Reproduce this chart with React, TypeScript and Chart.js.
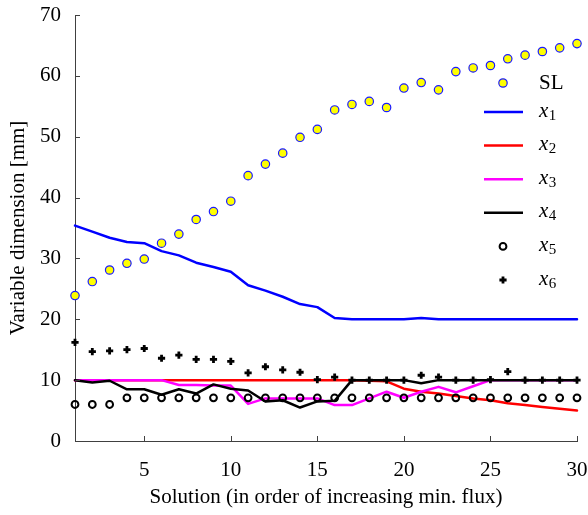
import React, { useEffect, useRef } from "react";
import { Chart, registerables } from "chart.js";

Chart.register(...registerables);

// ---------- data ----------
const solutions = [1, 2, 3, 4, 5, 6, 7, 8, 9, 10, 11, 12, 13, 14, 15, 16, 17, 18, 19, 20, 21, 22, 23, 24, 25, 26, 27, 28, 29, 30];

const slValues = [23.9, 26.2, 28.1, 29.2, 29.9, 32.5, 34.0, 36.4, 37.7, 39.4, 43.6, 45.5, 47.3, 49.9, 51.2, 54.4, 55.3, 55.8, 54.8, 58.0, 58.9, 57.7, 60.7, 61.3, 61.7, 62.8, 63.4, 64.0, 64.6, 65.3];
const x1Values = [35.4, 34.4, 33.4, 32.7, 32.5, 31.2, 30.5, 29.3, 28.6, 27.8, 25.6, 24.7, 23.7, 22.5, 22.0, 20.2, 20.0, 20.0, 20.0, 20.0, 20.2, 20.0, 20.0, 20.0, 20.0, 20.0, 20.0, 20.0, 20.0, 20.0];
const x2Values = [10, 10, 10, 10, 10, 10, 10, 10, 10, 10, 10, 10, 10, 10, 10, 10, 10, 9.9, 9.8, 8.6, 8.1, 7.8, 7.4, 7.0, 6.7, 6.2, 5.9, 5.6, 5.3, 5.0];
const x3Values = [10, 10, 10, 10, 10, 10, 9.2, 9.2, 9.1, 9.1, 6.1, 7.0, 7.0, 7.0, 7.0, 5.9, 5.9, 7.0, 8.1, 7.1, 8.1, 8.9, 8.0, 9.0, 10, 10, 10, 10, 10, 10];
const x4Values = [10, 9.6, 9.9, 8.5, 8.5, 7.6, 8.5, 7.8, 9.3, 8.6, 8.3, 6.5, 6.7, 5.5, 6.5, 6.6, 10, 10, 10, 10, 9.5, 10, 10, 10, 10, 10, 10, 10, 10, 10];
const x5Values = [6.0, 6.0, 6.0, 7.1, 7.1, 7.1, 7.1, 7.1, 7.1, 7.1, 7.1, 7.1, 7.1, 7.1, 7.1, 7.1, 7.1, 7.1, 7.1, 7.1, 7.1, 7.1, 7.1, 7.1, 7.1, 7.1, 7.1, 7.1, 7.1, 7.1];
const x6Values = [16.2, 14.7, 14.8, 15.0, 15.2, 13.6, 14.1, 13.4, 13.4, 13.1, 11.2, 12.2, 11.7, 11.3, 10.1, 10.5, 10, 10, 10, 10, 10.8, 10.5, 10, 10, 10.1, 11.4, 10, 10, 10, 10];

const seriesNames = ["SL", "x1", "x2", "x3", "x4", "x5", "x6"];
const xTickValues = [5, 10, 15, 20, 25, 30];
const yTickValues = [0, 10, 20, 30, 40, 50, 60, 70];
const xTitle = "Solution (in order of increasing min. flux)";
const yTitle = "Variable dimension [mm]";

const FONT = "'Liberation Serif', 'Times New Roman', serif";
const AXIS_COLOR = "#404040";

const toPoints = (vals: number[]) => solutions.map((s, i) => ({ x: s, y: vals[i] }));

type Style = { kind: "point" | "line"; color: string; fill?: string; shape?: string };
const styles: Style[] = [
  { kind: "point", color: "#1a1aff", fill: "#ffff00", shape: "circle" },
  { kind: "line", color: "#0000ff" },
  { kind: "line", color: "#ff0000" },
  { kind: "line", color: "#ff00ff" },
  { kind: "line", color: "#000000" },
  { kind: "point", color: "#000000", fill: "rgba(0,0,0,0)", shape: "ring" },
  { kind: "point", color: "#000000", shape: "plus" },
];

function drawMarker(ctx: CanvasRenderingContext2D, st: Style, x: number, y: number) {
  ctx.save();
  if (st.shape === "circle") {
    ctx.beginPath();
    ctx.arc(x, y, 4.2, 0, Math.PI * 2);
    ctx.fillStyle = st.fill!;
    ctx.fill();
    ctx.lineWidth = 1.2;
    ctx.strokeStyle = st.color;
    ctx.stroke();
  } else if (st.shape === "ring") {
    ctx.beginPath();
    ctx.arc(x, y, 3.4, 0, Math.PI * 2);
    ctx.lineWidth = 2;
    ctx.strokeStyle = st.color;
    ctx.stroke();
  } else {
    ctx.beginPath();
    ctx.moveTo(x - 3.6, y);
    ctx.lineTo(x + 3.6, y);
    ctx.moveTo(x, y - 3.6);
    ctx.lineTo(x, y + 3.6);
    ctx.lineWidth = 2.8;
    ctx.strokeStyle = st.color;
    ctx.stroke();
  }
  ctx.restore();
}

const inwardTicks = {
  id: "inwardTicks",
  afterDraw(chart: any) {
    const { ctx, chartArea, scales } = chart;
    ctx.save();
    ctx.strokeStyle = AXIS_COLOR;
    ctx.lineWidth = 1;
    ctx.beginPath();
    xTickValues.forEach((v) => {
      const px = Math.round(scales.x.getPixelForValue(v)) + 0.5;
      ctx.moveTo(px, chartArea.bottom);
      ctx.lineTo(px, chartArea.bottom - 5);
    });
    yTickValues.forEach((v) => {
      const py = Math.round(scales.y.getPixelForValue(v)) + 0.5;
      ctx.moveTo(chartArea.left, py);
      ctx.lineTo(chartArea.left + 5, py);
    });
    ctx.stroke();
    ctx.restore();
  },
};

const customLegend = {
  id: "customLegend",
  afterDraw(chart: any) {
    const { ctx } = chart;
    const rowsY = [83, 112, 145.6, 179.2, 212.8, 246.4, 280];
    const markerX = 503;
    const lineX0 = 484;
    const lineX1 = 523;
    const textX = 539;
    seriesNames.forEach((name, i) => {
      const y = rowsY[i];
      const st = styles[i];
      if (st.kind === "line") {
        ctx.save();
        ctx.beginPath();
        ctx.moveTo(lineX0, y);
        ctx.lineTo(lineX1, y);
        ctx.lineWidth = 2.5;
        ctx.strokeStyle = st.color;
        ctx.stroke();
        ctx.restore();
      } else {
        drawMarker(ctx, st, markerX, y);
      }
      ctx.save();
      ctx.fillStyle = "#000";
      if (name.startsWith("x")) {
        ctx.textBaseline = "alphabetic";
        ctx.textAlign = "left";
        ctx.font = `italic 21px ${FONT}`;
        const base = y + 4.5;
        ctx.fillText("x", textX, base);
        const w = ctx.measureText("x").width;
        ctx.font = `15px ${FONT}`;
        ctx.fillText(name.slice(1), textX + w + 0.5, base + 3);
      } else {
        ctx.textBaseline = "middle";
        ctx.textAlign = "left";
        ctx.font = `21px ${FONT}`;
        ctx.fillText(name, textX, y);
      }
      ctx.restore();
    });
  },
};

const resetPadding = (s: any) => {
  s.paddingTop = 0;
  s.paddingBottom = 0;
  s.paddingLeft = 0;
  s.paddingRight = 0;
};

export default function App() {
  const ref = useRef<HTMLCanvasElement>(null);

  useEffect(() => {
    const canvas = ref.current;
    if (!canvas) return;

    const lineDs = (label: string, vals: number[], color: string, order: number) => ({
      label,
      data: toPoints(vals),
      borderColor: color,
      backgroundColor: color,
      borderWidth: 2.5,
      borderJoinStyle: "round" as const,
      borderCapStyle: "round" as const,
      pointRadius: 0,
      tension: 0,
      showLine: true,
      clip: false as const,
      order,
    });

    const chart = new Chart(canvas, {
      type: "line",
      data: {
        datasets: [
          {
            label: seriesNames[0],
            data: toPoints(slValues),
            showLine: false,
            pointStyle: "circle",
            pointRadius: 4.2,
            pointBorderWidth: 1.2,
            pointBackgroundColor: "#ffff00",
            pointBorderColor: "#1a1aff",
            clip: false,
            order: 0,
          } as any,
          {
            label: seriesNames[6],
            data: toPoints(x6Values),
            showLine: false,
            pointStyle: "cross",
            pointRadius: 3.6,
            pointBorderWidth: 2.8,
            pointBorderColor: "#000",
            pointBackgroundColor: "#000",
            clip: false,
            order: 1,
          } as any,
          {
            label: seriesNames[5],
            data: toPoints(x5Values),
            showLine: false,
            pointStyle: "circle",
            pointRadius: 3.4,
            pointBorderWidth: 2,
            pointBorderColor: "#000",
            pointBackgroundColor: "rgba(0,0,0,0)",
            clip: false,
            order: 2,
          } as any,
          lineDs(seriesNames[4], x4Values, "#000000", 3),
          lineDs(seriesNames[3], x3Values, "#ff00ff", 4),
          lineDs(seriesNames[2], x2Values, "#ff0000", 5),
          lineDs(seriesNames[1], x1Values, "#0000ff", 6),
        ],
      },
      options: {
        animation: false,
        responsive: false,
        events: [],
        layout: { padding: { top: 15, right: 11, left: 0, bottom: 0 } },
        plugins: {
          legend: { display: false },
          tooltip: { enabled: false },
        },
        scales: {
          x: {
            type: "linear",
            min: 1,
            max: 30,
            afterBuildTicks: (s: any) => {
              s.ticks = xTickValues.map((v) => ({ value: v }));
            },
            afterFit: (s: any) => {
              s.height = 74;
              resetPadding(s);
            },
            grid: { display: false, drawTicks: false },
            border: { display: true, color: AXIS_COLOR, width: 1 },
            ticks: {
              font: { family: FONT, size: 21 },
              color: "#000",
              padding: 17,
              maxRotation: 0,
              autoSkip: false,
            },
            title: {
              display: true,
              text: xTitle,
              font: { family: FONT, size: 21 },
              color: "#000",
              padding: { top: 0, bottom: 5 },
            },
          },
          y: {
            type: "linear",
            min: 0,
            max: 70,
            afterBuildTicks: (s: any) => {
              s.ticks = yTickValues.map((v) => ({ value: v }));
            },
            afterFit: (s: any) => {
              s.width = 75;
              resetPadding(s);
            },
            grid: { display: false, drawTicks: false },
            border: { display: true, color: AXIS_COLOR, width: 1 },
            ticks: {
              font: { family: FONT, size: 21 },
              color: "#000",
              padding: 14,
            },
            title: {
              display: true,
              text: yTitle,
              font: { family: FONT, size: 21 },
              color: "#000",
              padding: { top: 6, bottom: 0 },
            },
          },
        },
      } as any,
      plugins: [inwardTicks, customLegend],
    });

    return () => chart.destroy();
  }, []);

  return (
    <div style={{ position: "fixed", left: 0, top: 0, width: 588, height: 515, background: "#fff" }}>
      <canvas ref={ref} width={588} height={515} style={{ width: 588, height: 515, display: "block" }} />
    </div>
  );
}
